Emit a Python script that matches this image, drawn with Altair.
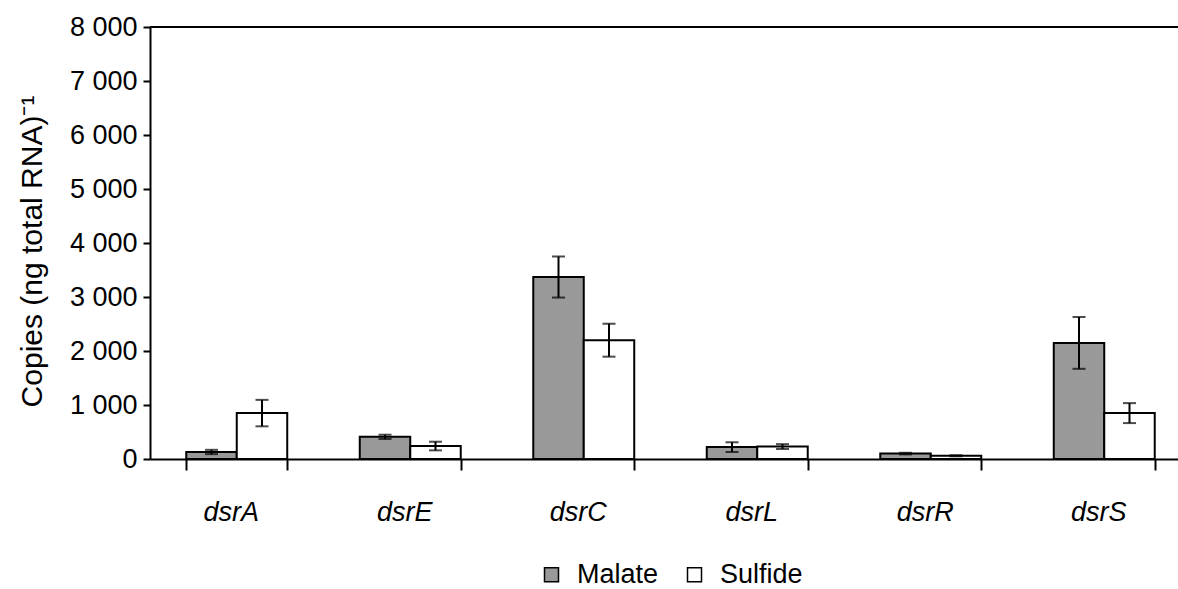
import altair as alt
import pandas as pd

genes = ["dsrA", "dsrE", "dsrC", "dsrL", "dsrR", "dsrS"]
conditions = ["Malate", "Sulfide"]
malate = [130, 410, 3370, 220, 100, 2150]
malate_err = [40, 40, 380, 90, 15, 480]
sulfide = [850, 240, 2200, 230, 60, 850]
sulfide_err = [245, 80, 305, 45, 10, 185]
y_ticks = [0, 1000, 2000, 3000, 4000, 5000, 6000, 7000, 8000]

rows = []
for g, m, me, s, se in zip(genes, malate, malate_err, sulfide, sulfide_err):
    rows.append({"gene": g, "cond": "Malate", "value": m, "lo": m - me, "hi": m + me})
    rows.append({"gene": g, "cond": "Sulfide", "value": s, "lo": s - se, "hi": s + se})
df = pd.DataFrame(rows)

FONT = "Liberation Sans"

x_scale = alt.Scale(paddingInner=0.418, paddingOuter=0.209, range=[0, 1041])
x_enc = alt.X(
    "gene:N",
    sort=genes,
    title=None,
    scale=x_scale,
    axis=alt.Axis(
        labelFontStyle="italic",
        labelFontSize=27,
        labelFont=FONT,
        labelColor="black",
        labelAngle=0,
        labelPadding=29,
        labelOffset=-6,
        tickBand="extent",
        tickSize=11,
        tickWidth=2,
        tickColor="black",
        domainColor="black",
        domainWidth=2,
    ),
)
xo = alt.XOffset("cond:N", sort=conditions, scale=alt.Scale(paddingInner=0, paddingOuter=0))
y_scale = alt.Scale(domain=[0, 8000], nice=False)

bars = alt.Chart(df).mark_bar(stroke="black", strokeWidth=2).encode(
    x=x_enc,
    xOffset=xo,
    y=alt.Y(
        "value:Q",
        scale=y_scale,
        title="Copies (ng total RNA)⁻¹",
        axis=alt.Axis(
            values=y_ticks,
            grid=False,
            labelExpr="replace(format(datum.value, ','), ',', ' ')",
            labelFontSize=27,
            labelFont=FONT,
            labelColor="black",
            labelPadding=6,
            tickSize=7,
            tickWidth=2,
            tickColor="black",
            domainColor="black",
            domainWidth=2,
            titleFontSize=30,
            titleFont=FONT,
            titleFontWeight="normal",
            titleColor="black",
            titleX=-103,
            titleY=224,
            titleAlign="center",
            titleAngle=270,
        ),
    ),
    fill=alt.Fill(
        "cond:N",
        sort=conditions,
        scale=alt.Scale(domain=conditions, range=["#999999", "#ffffff"]),
        legend=alt.Legend(
            title=None,
            orient="none",
            legendX=388,
            legendY=534,
            direction="horizontal",
            symbolType="square",
            symbolSize=196,
            symbolStrokeColor="black",
            symbolStrokeWidth=1.5,
            symbolOpacity=1,
            labelFontSize=27,
            labelFont=FONT,
            labelColor="black",
            labelOffset=12,
            columnPadding=22,
        ),
    ),
)

err = alt.Chart(df).mark_rule(color="black", strokeWidth=2).encode(
    x=alt.X("gene:N", sort=genes, scale=x_scale),
    xOffset=xo,
    y=alt.Y("lo:Q", scale=y_scale),
    y2="hi:Q",
)
cap_lo = alt.Chart(df).mark_tick(color="black", thickness=2, size=13, orient="horizontal").encode(
    x=alt.X("gene:N", sort=genes, scale=x_scale),
    xOffset=xo,
    y=alt.Y("lo:Q", scale=y_scale),
)
cap_hi = alt.Chart(df).mark_tick(color="black", thickness=2, size=13, orient="horizontal").encode(
    x=alt.X("gene:N", sort=genes, scale=x_scale),
    xOffset=xo,
    y=alt.Y("hi:Q", scale=y_scale),
)
top_line = alt.Chart(df).mark_rule(color="black", strokeWidth=2).encode(
    y=alt.Y(datum=8000, scale=y_scale)
)

chart = (
    alt.layer(bars, err, cap_lo, cap_hi, top_line)
    .properties(
        width=1028,
        height=432,
        autosize=alt.AutoSizeParams(type="none"),
        padding={"left": 150, "top": 27, "right": 0, "bottom": 130},
        background="white",
    )
    .configure_view(stroke=None)
)

chart.save("out.html", embed_options={"renderer": "svg", "actions": False})
